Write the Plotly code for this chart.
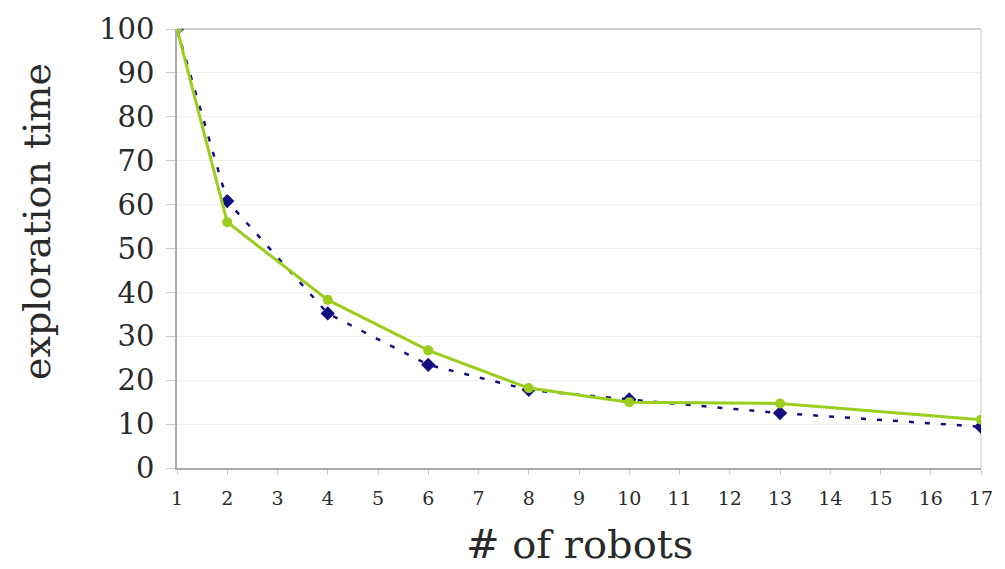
import plotly.graph_objects as go

# number of robots (x positions)
robots = [1, 2, 4, 6, 8, 10, 13, 17]
# exploration time, two series
time_navy = [100, 60.8, 35.2, 23.5, 17.8, 15.6, 12.5, 9.4]
time_green = [100, 56.0, 38.3, 26.8, 18.2, 15.0, 14.7, 11.0]

x_ticks = list(range(1, 18))
y_ticks = list(range(0, 101, 10))

serif = "DejaVu Serif, Liberation Serif, serif"

fig = go.Figure()
fig.add_trace(go.Scatter(
    x=robots, y=time_navy, mode="lines+markers",
    line=dict(color="#101080", width=2.5, dash="5px,11px"),
    marker=dict(symbol="diamond", size=11, color="#101080"),
    showlegend=False,
))
fig.add_trace(go.Scatter(
    x=robots, y=time_green, mode="lines+markers",
    line=dict(color="#9acd1c", width=3),
    marker=dict(symbol="circle", size=10, color="#9acd1c"),
    showlegend=False,
))

# top and right frame edges of the plot area
fig.add_shape(type="line", xref="paper", yref="paper", x0=0, x1=1, y0=1, y1=1,
              line=dict(color="#bdbdbd", width=1.5), layer="below")
fig.add_shape(type="line", xref="paper", yref="paper", x0=1, x1=1, y0=0, y1=1,
              line=dict(color="#dcdcdc", width=1.5), layer="below")

# axis titles
fig.add_annotation(text="exploration time", xref="paper", yref="paper",
                   x=-0.175, y=0.561, xanchor="center", yanchor="middle",
                   textangle=-90, showarrow=False,
                   font=dict(size=38, family=serif, color="#2a2a2a"))
fig.add_annotation(text="# of robots", xref="paper", yref="paper",
                   x=0.5, y=-0.172, xanchor="center", yanchor="middle",
                   showarrow=False,
                   font=dict(size=40, family=serif, color="#2a2a2a"))

fig.update_layout(
    width=1005, height=569,
    margin=dict(l=177, r=18, t=28, b=101),
    paper_bgcolor="white", plot_bgcolor="white",
    font=dict(family=serif, color="#2a2a2a"),
)
fig.update_xaxes(
    range=[1, 17], tickvals=x_ticks, ticktext=[str(v) for v in x_ticks],
    showgrid=False, zeroline=False,
    showline=True, linecolor="#aaaaaa", linewidth=1.5,
    ticks="outside", ticklen=5, tickcolor="#cccccc", ticklabelstandoff=7,
    tickfont=dict(size=19, family=serif),
)
fig.update_yaxes(
    range=[0, 100], tickvals=y_ticks, ticktext=[str(v) for v in y_ticks],
    showgrid=True, gridcolor="#efefef", gridwidth=1, zeroline=False,
    showline=True, linecolor="#aaaaaa", linewidth=1.5,
    ticks="outside", ticklen=9, tickcolor="#cccccc", ticklabelstandoff=6,
    tickfont=dict(size=29, family=serif),
)

fig.write_html("out.html")
